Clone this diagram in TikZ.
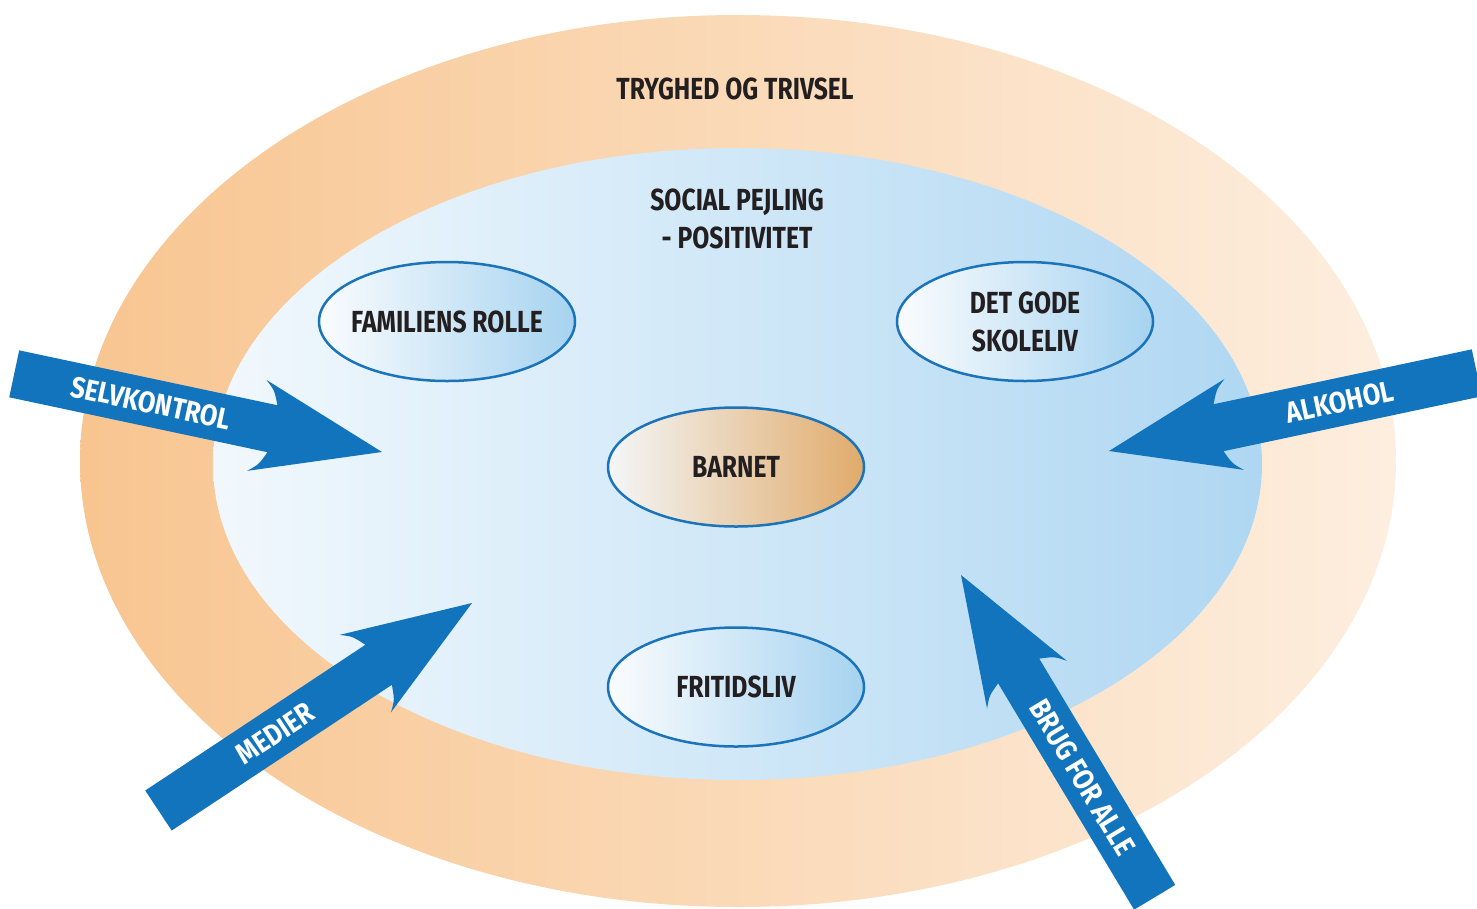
\documentclass[tikz,border=0pt]{standalone}
\usepackage{fontspec}
\newfontfamily\cond{Fira Sans}[FakeStretch=0.81]
\newfontfamily\condw{Fira Sans}[FakeStretch=0.86]
\usetikzlibrary{shapes.geometric}
\definecolor{arrowblue}{HTML}{1174BC}
\definecolor{edgeblue}{HTML}{1B73BA}
\definecolor{txt}{HTML}{231F20}
\definecolor{orangeL}{HTML}{F8C590}
\definecolor{orangeR}{HTML}{FDEEDF}
\definecolor{skyL}{HTML}{F1F8FD}
\definecolor{skyR}{HTML}{AFD7F2}
\definecolor{smallL}{HTML}{FAFCFE}
\definecolor{smallR}{HTML}{A6D3F0}
\definecolor{childL}{HTML}{F3F6F8}
\definecolor{childR}{HTML}{E1AB6B}
\newcommand{\zw}[1]{\makebox[0pt]{#1}}
\tikzset{
  lbl/.style={font=\cond\bfseries\fontsize{30.5}{38}\selectfont, text=txt, align=center, inner sep=0pt},
  arrowlbl/.style={font=\condw\bfseries\fontsize{29.5}{34}\selectfont, text=white, inner sep=0pt},
  smallell/.style={ellipse, draw=edgeblue, line width=2.5pt, left color=smallL, right color=smallR,
    minimum width=256pt, minimum height=119pt, inner sep=0pt,
    font=\cond\bfseries\fontsize{30.5}{38}\selectfont, text=txt, align=center},
  bigarrow/.pic={
    \fill[arrowblue] (0,0) -- (-128,-46.5) .. controls (-118,-38) .. (-112,-24)
      -- (-376,-24) -- (-376,24) -- (-112,24) .. controls (-118,38) .. (-128,46.5) -- cycle;
  }
}
\begin{document}
\begin{tikzpicture}[x=1pt,y=-1pt]
\useasboundingbox (0,0) rectangle (1477,908);
\fill[white] (0,0) rectangle (1477,908);
\clip (0,0) rectangle (1477,908);
% outer ring
\shade[left color=orangeL, right color=orangeR] (738,461) ellipse [x radius=658, y radius=446];
% inner ellipse
\shade[left color=skyL, right color=skyR] (737.5,464) ellipse [x radius=524.5, y radius=316];
% texts in bands
\node[lbl] (tryg) at (735,89) {TRYGHED OG TRIVSEL};
\node[lbl] (social) at (737,219) {SOCIAL PEJLING\\- POSITIVITET};
% small ellipses
\node[smallell] (fam) at (447,321.5) {\zw{FAMILIENS ROLLE}};
\node[smallell] (skole) at (1025,321.5) {\zw{DET GODE}\\\zw{SKOLELIV}};
\node[smallell, left color=childL, right color=childR] (barnet) at (736,467) {\zw{BARNET}};
\node[smallell] (fritid) at (736,687) {\zw{FRITIDSLIV}};
% arrows
\pic[rotate=-12] at (382,452) {bigarrow};
\pic[rotate=192] at (1109,451) {bigarrow};
\pic[rotate=33.5] at (472,603) {bigarrow};
\pic[rotate=121] at (961,575) {bigarrow};
\node[arrowlbl, rotate=-12] (selv) at (151.2,402.9) {SELVKONTROL};
\node[arrowlbl, rotate=12] (alk) at (1339.8,401.9) {ALKOHOL};
\node[arrowlbl, rotate=33.5] (medier) at (275.2,733.3) {MEDIER};
\node[arrowlbl, rotate=-59] (brug) at (1082.5,777.3) {BRUG FOR ALLE};
\end{tikzpicture}
\end{document}
